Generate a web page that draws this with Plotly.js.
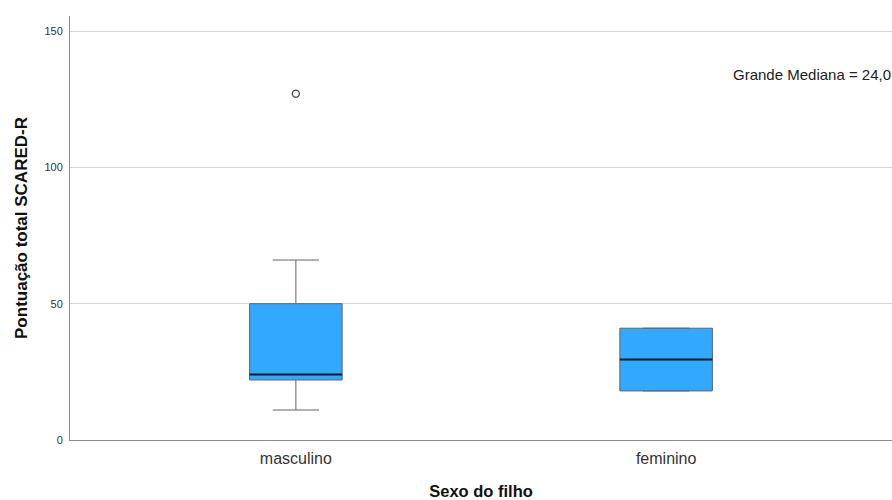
<!DOCTYPE html>
<html>
<head>
<meta charset="utf-8">
<script src="https://cdn.plot.ly/plotly-3.0.1.min.js"></script>
<style>html,body{margin:0;padding:0;background:#fff}#chart{width:892px;height:500px}</style>
</head>
<body>
<div id="chart"></div>
<script>
var categories = ['masculino', 'feminino'];
var q1Values = [22, 18];
var medianValues = [24, 29.5];
var q3Values = [50, 41];
var lowerWhisker = [11, 18];
var upperWhisker = [66, 41];
var outlierCategories = ['masculino'];
var outlierValues = [127];
var grandMedianText = 'Grande Mediana = 24,0';
var grandMedianY = 134;

var font = 'Liberation Sans, Arial, sans-serif';

var boxTrace = {
  type: 'box',
  x: categories,
  q1: q1Values,
  median: medianValues,
  q3: q3Values,
  lowerfence: lowerWhisker,
  upperfence: upperWhisker,
  width: 0.25,
  whiskerwidth: 0.5,
  fillcolor: '#33A8FF',
  line: {color: '#5f6670', width: 1},
  boxpoints: false,
  hoverinfo: 'skip',
  showlegend: false
};

var medianTrace = {
  type: 'box',
  x: categories,
  q1: medianValues,
  median: medianValues,
  q3: medianValues,
  lowerfence: medianValues,
  upperfence: medianValues,
  width: 0.25,
  whiskerwidth: 0,
  fillcolor: 'rgba(0,0,0,0)',
  line: {color: '#0b1a26', width: 2},
  boxpoints: false,
  hoverinfo: 'skip',
  showlegend: false
};

var outlierTrace = {
  type: 'scatter',
  mode: 'markers',
  x: outlierCategories,
  y: outlierValues,
  marker: {symbol: 'circle-open', size: 7, color: '#444', line: {width: 1.3, color: '#444'}},
  hoverinfo: 'skip',
  showlegend: false
};

var layout = {
  width: 892,
  height: 500,
  margin: {l: 70, r: 0, t: 16, b: 60},
  paper_bgcolor: '#fff',
  plot_bgcolor: '#fff',
  font: {family: font, color: '#333'},
  showlegend: false,
  boxmode: 'overlay',
  xaxis: {
    type: 'category',
    range: [-0.61, 1.61],
    showgrid: false,
    showline: true,
    linecolor: '#8c8c8c',
    linewidth: 1,
    ticks: '',
    ticklabelstandoff: 4,
    tickfont: {size: 16, color: '#333', family: font},
    title: {text: 'Sexo do filho', font: {size: 16.5, color: '#111', family: font, weight: 'bold'}, standoff: 20},
    zeroline: false,
    automargin: false
  },
  yaxis: {
    range: [0, 155.5],
    tickvals: [0, 50, 100, 150],
    ticktext: ['0', '50', '100', '150'],
    showgrid: true,
    gridcolor: '#d4d4d4',
    gridwidth: 1,
    showline: true,
    linecolor: '#8c8c8c',
    linewidth: 1,
    ticks: '',
    ticklabelstandoff: 4,
    tickfont: {size: 11, color: '#333', family: font},
    title: {text: 'Pontuação total SCARED-R', font: {size: 17, color: '#111', family: font, weight: 'bold'}, standoff: 12},
    zeroline: false,
    automargin: false
  },
  annotations: [{
    xref: 'paper', yref: 'y',
    x: 1, y: grandMedianY,
    xanchor: 'right', yanchor: 'middle',
    text: grandMedianText,
    showarrow: false,
    borderpad: 0,
    font: {size: 15, color: '#222', family: font}
  }]
};

Plotly.newPlot('chart', [boxTrace, medianTrace, outlierTrace], layout, {displayModeBar: false, staticPlot: true});
</script>
</body>
</html>
